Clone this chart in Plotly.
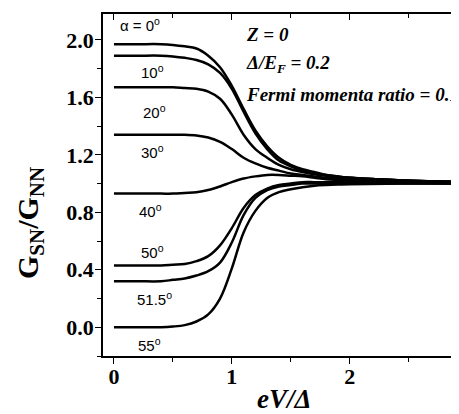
import plotly.graph_objects as go

# eV/Delta sample points
x_vals = [0, 0.2, 0.4, 0.5, 0.6, 0.7, 0.8, 0.9, 1.0, 1.1, 1.2, 1.3, 1.4, 1.5, 1.6, 1.7, 1.8, 1.9, 2.0, 2.5, 3.0]

g_0 = [1.97, 1.97, 1.97, 1.965, 1.955, 1.94, 1.89, 1.81, 1.68, 1.52, 1.37, 1.26, 1.18, 1.13, 1.10, 1.08, 1.06, 1.05, 1.04, 1.02, 1.01]
g_10 = [1.89, 1.89, 1.89, 1.885, 1.875, 1.86, 1.83, 1.77, 1.66, 1.50, 1.35, 1.24, 1.16, 1.12, 1.09, 1.07, 1.06, 1.05, 1.04, 1.02, 1.01]
g_20 = [1.67, 1.67, 1.67, 1.67, 1.665, 1.66, 1.64, 1.59, 1.48, 1.34, 1.24, 1.18, 1.13, 1.10, 1.08, 1.065, 1.055, 1.045, 1.04, 1.02, 1.01]
g_30 = [1.34, 1.34, 1.34, 1.34, 1.34, 1.335, 1.32, 1.29, 1.24, 1.18, 1.14, 1.11, 1.09, 1.07, 1.06, 1.05, 1.04, 1.035, 1.03, 1.02, 1.01]
g_40 = [0.93, 0.93, 0.93, 0.93, 0.935, 0.94, 0.955, 0.98, 1.01, 1.035, 1.05, 1.06, 1.06, 1.055, 1.05, 1.04, 1.03, 1.025, 1.02, 1.01, 1.0]
g_50 = [0.43, 0.43, 0.43, 0.435, 0.44, 0.46, 0.495, 0.57, 0.69, 0.83, 0.92, 0.965, 0.99, 1.0, 1.01, 1.01, 1.01, 1.01, 1.01, 1.005, 1.0]
g_515 = [0.32, 0.32, 0.32, 0.33, 0.34, 0.36, 0.39, 0.45, 0.59, 0.78, 0.90, 0.955, 0.98, 0.99, 1.0, 1.0, 1.005, 1.005, 1.005, 1.0, 1.0]
g_55 = [0.0, 0.0, 0.0, 0.005, 0.015, 0.04, 0.09, 0.20, 0.41, 0.66, 0.81, 0.90, 0.94, 0.96, 0.975, 0.985, 0.99, 0.993, 0.995, 1.0, 1.0]

series = [g_0, g_10, g_20, g_30, g_40, g_50, g_515, g_55]

angle_labels = ["α = 0<sup>o</sup>", "10<sup>o</sup>", "20<sup>o</sup>", "30<sup>o</sup>",
                "40<sup>o</sup>", "50<sup>o</sup>", "51.5<sup>o</sup>", "55<sup>o</sup>"]
label_x = [0.22, 0.33, 0.34, 0.33, 0.31, 0.33, 0.34, 0.30]
label_y = [2.11, 1.78, 1.50, 1.22, 0.81, 0.53, 0.20, -0.12]

x_ticks = [0, 1, 2]
y_ticks = [0.0, 0.4, 0.8, 1.2, 1.6, 2.0]

x_range = [-0.093, 2.97]
y_range = [-0.2, 2.18]

fig = go.Figure()
for s in series:
    fig.add_trace(go.Scatter(x=x_vals, y=s, mode="lines",
                             line=dict(color="black", width=2.5, shape="spline", smoothing=1.0),
                             showlegend=False, hoverinfo="skip"))
# dummy trace for overlay axes (inside ticks on top/right)
fig.add_trace(go.Scatter(x=[None], y=[None], xaxis="x2", yaxis="y2", showlegend=False))

for t, lx, ly in zip(angle_labels, label_x, label_y):
    fig.add_annotation(x=lx, y=ly, text=t, showarrow=False,
                       font=dict(family="Liberation Sans", size=15, color="black"))

serif_bi = dict(family="Liberation Serif", size=19, color="black")
for txt, py in [("<b><i>Z = 0</i></b>", 26), ("<b><i>Δ/E<sub>F</sub> = 0.2</i></b>", 56),
                ("<b><i>Fermi momenta ratio = 0.1</i></b>", 86)]:
    fig.add_annotation(xref="paper", yref="paper", x=(236 - 95) / 361, y=(348 - py) / 342,
                       xanchor="left", yanchor="middle", text=txt, showarrow=False, font=serif_bi)

# axis titles
fig.add_annotation(xref="paper", yref="paper", x=(22 - 95) / 361, y=(348 - 215) / 342,
                   text="<b>G<sub>SN</sub>/G<sub>NN</sub></b>", textangle=-90, showarrow=False,
                   xanchor="center", yanchor="middle",
                   font=dict(family="Liberation Serif", size=30, color="black"))
fig.add_annotation(xref="paper", yref="paper", x=0.5, y=(348 - 391) / 342,
                   text="<b><i>eV/Δ</i></b>", showarrow=False, xanchor="center", yanchor="middle",
                   font=dict(family="Liberation Serif", size=27, color="black"))
# partially visible "3" tick label
fig.add_annotation(xref="paper", yref="paper", x=(3 - x_range[0]) / (x_range[1] - x_range[0]),
                   y=(348 - 375) / 342, text="<b>3</b>", showarrow=False, xanchor="center",
                   yanchor="middle", font=dict(family="Liberation Serif", size=22, color="black"))

tickfont = dict(family="Liberation Serif", size=22, color="black")
fig.update_layout(
    width=459, height=414,
    margin=dict(l=95, r=3, t=6, b=66),
    paper_bgcolor="white", plot_bgcolor="white",
    xaxis=dict(range=x_range, tickvals=x_ticks, ticktext=[f"<b>{v}</b>" for v in x_ticks],
               ticks="outside", ticklen=6, tickwidth=1.3, tickcolor="black", ticklabelstandoff=-6,
               minor=dict(dtick=0.5, tick0=0, ticks="outside", ticklen=4, tickcolor="black"),
               showline=True, linecolor="black", linewidth=1.5, showgrid=False, zeroline=False,
               tickfont=tickfont),
    yaxis=dict(range=y_range, tickvals=y_ticks, ticktext=[f"<b>{v:.1f}</b>" for v in y_ticks],
               ticks="outside", ticklen=6, tickwidth=1.3, tickcolor="black", ticklabelstandoff=-3,
               minor=dict(dtick=0.2, tick0=0, ticks="outside", ticklen=4, tickcolor="black"),
               showline=True, linecolor="black", linewidth=1.5, showgrid=False, zeroline=False,
               tickfont=tickfont),
    xaxis2=dict(range=x_range, overlaying="x", side="top", anchor="y2", tickvals=x_ticks,
                showticklabels=False, ticks="inside", ticklen=6, tickcolor="black",
                minor=dict(dtick=0.5, tick0=0, ticks="inside", ticklen=4, tickcolor="black"),
                showline=True, linecolor="black", linewidth=1.5, showgrid=False, zeroline=False),
    yaxis2=dict(range=y_range, overlaying="y", side="right", anchor="x2", tickvals=y_ticks,
                showticklabels=False, ticks="inside", ticklen=6, tickcolor="black",
                minor=dict(dtick=0.2, tick0=0, ticks="inside", ticklen=4, tickcolor="black"),
                showline=True, linecolor="black", linewidth=1.5, showgrid=False, zeroline=False),
)

fig.write_html("out.html")
